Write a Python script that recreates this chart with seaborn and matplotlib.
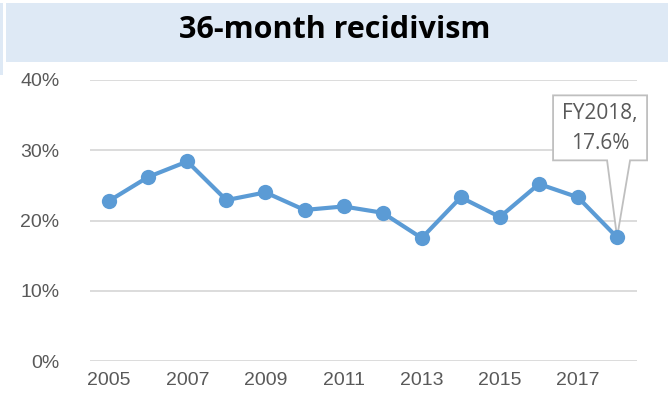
import matplotlib
matplotlib.use("Agg")
import matplotlib.pyplot as plt
import matplotlib.transforms as mtransforms
import seaborn as sns
import pandas as pd
from matplotlib.patches import Rectangle, Polygon

years = [2005, 2006, 2007, 2008, 2009, 2010, 2011, 2012, 2013, 2014, 2015, 2016, 2017, 2018]
rates = [22.8, 26.2, 28.4, 22.9, 24.0, 21.5, 22.0, 21.1, 17.5, 23.3, 20.5, 25.2, 23.3, 17.6]
xtick_years = [2005, 2007, 2009, 2011, 2013, 2015, 2017]
ytick_vals = [0, 10, 20, 30, 40]
title = "36-month recidivism"
callout = "FY2018,\n17.6%"

df = pd.DataFrame({"year": years, "rate": rates})

sns.set_theme(style="white")
plt.rcParams["font.family"] = ["Liberation Sans", "DejaVu Sans"]

fig = plt.figure(figsize=(6.71, 4.04), dpi=100)
W, H = 671, 404
ax = fig.add_axes([90 / W, (H - 361) / H, (637 - 90) / W, (361 - 80) / H])

# title band
fig.patches.append(Rectangle((6 / W, (H - 62) / H), (662 / W), 59 / H,
                             transform=fig.transFigure, facecolor="#DEE9F5",
                             edgecolor="none", zorder=0))
fig.patches.append(Rectangle((0, (H - 75) / H), 3 / W, 72 / H,
                             transform=fig.transFigure, facecolor="#DEE9F5",
                             edgecolor="none", zorder=0))
fig.text(335 / W, (H - 30) / H, title, ha="center", va="center",
         fontsize=22, fontweight="bold", family=["Open Sans", "DejaVu Sans"],
         color="#000000")

sns.lineplot(data=df, x="year", y="rate", ax=ax, color="#5B9BD5",
             linewidth=3.0, marker="o", markersize=11, markeredgewidth=0,
             zorder=3)

ax.set_xlim(2004.51, 2018.51)
ax.set_ylim(0, 40)
ax.set_yticks(ytick_vals)
ax.set_yticklabels([f"{v}%" for v in ytick_vals])
ax.set_xticks(xtick_years)
ax.set_xticklabels([str(y) for y in xtick_years])
ax.grid(axis="y", color="#D9D9D9", linewidth=1.3)
ax.set_axisbelow(True)
for s in ax.spines.values():
    s.set_visible(False)
ax.tick_params(axis="both", length=0, labelsize=14, colors="#595959")
ax.tick_params(axis="y", pad=22)
ax.tick_params(axis="x", pad=8)
ax.set_xlabel("")
ax.set_ylabel("")

# callout anchored to the last data point (offsets in inches at 100 dpi)
anchor = mtransforms.ScaledTranslation(years[-1], rates[-1], ax.transData)
tr = fig.dpi_scale_trans + anchor
shape = [(-0.64, 0.77), (-0.64, 1.42), (0.30, 1.42), (0.30, 0.77),
         (0.13, 0.77), (0.0, 0.0), (-0.10, 0.77)]
ax.add_patch(Polygon(shape, closed=True, transform=tr, facecolor="white",
                     edgecolor="#BFBFBF", linewidth=1.3, zorder=2,
                     clip_on=False))
ax.text(-0.17, 1.09, callout, transform=tr, ha="center", va="center",
        fontsize=15, color="#595959", family=["Open Sans", "DejaVu Sans"],
        linespacing=1.55, zorder=6)

fig.savefig("out.png", dpi=100)
